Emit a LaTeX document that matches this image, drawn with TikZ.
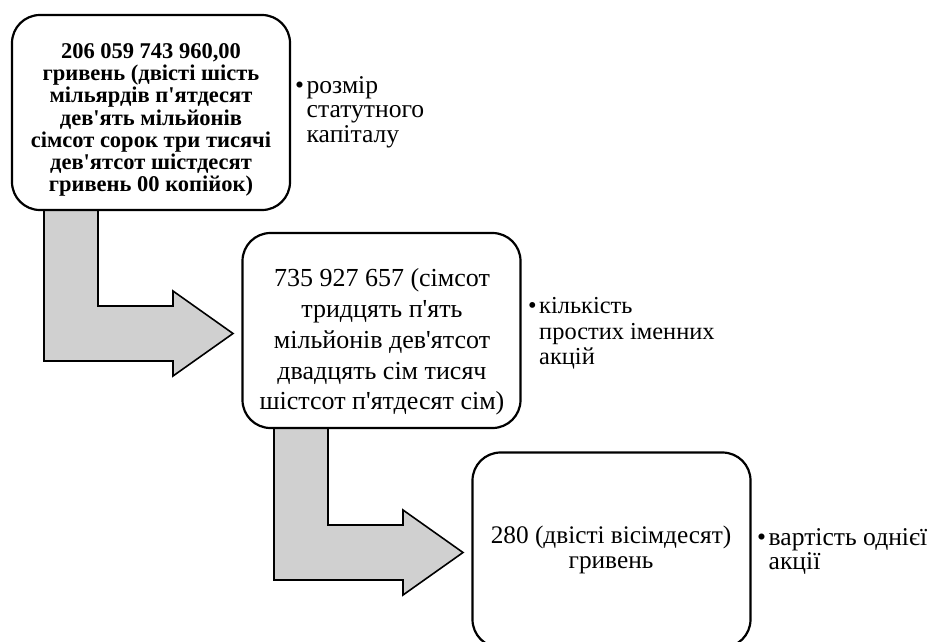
\documentclass[tikz,border=0pt]{standalone}
\usepackage{fontspec}
\setmainfont{Liberation Serif}[Ligatures=TeXOff]
\definecolor{arrowgray}{RGB}{208,208,208}
\newcommand{\bul}{•\hspace{2.5pt}}
\newcommand{\ind}{\phantom{\bul}}
\tikzset{
  box/.style={draw=black, line width=2.2pt, rounded corners=28pt, fill=white,
    minimum width=278pt, minimum height=195pt, inner sep=0pt},
  bigarrow/.style={draw=black, line width=1.6pt, fill=arrowgray, line join=miter},
  boldtxt/.style={font=\fontsize{22.5pt}{22.2pt}\selectfont\bfseries, align=center, inner sep=0pt},
  regtxt/.style={font=\fontsize{26pt}{30.8pt}\selectfont, align=center, inner sep=0pt},
  regtxtb/.style={font=\fontsize{25.3pt}{25pt}\selectfont, align=center, inner sep=0pt},
  lbl/.style={font=\fontsize{25.6pt}{24.5pt}\selectfont, align=left, inner sep=0pt, anchor=north west},
  lblsmall/.style={lbl, font=\fontsize{24.4pt}{25.8pt}\selectfont},
  pics/bentarrow/.style={code={
    \draw[bigarrow] (0,-4) -- (0,153) -- (129,153) -- (129,168) -- (189,125.5)
      -- (129,83) -- (129,98) -- (54,98) -- (54,-4) -- cycle;
  }}
}
\begin{document}
\begin{tikzpicture}[x=1pt, y=-1pt]
\useasboundingbox (0,0) rectangle (931,641);
\clip (0,0) rectangle (931,641);
% arrows (drawn first, boxes cover their upper ends)
\pic at (44,208) {bentarrow};
\pic at (274,427) {bentarrow};
% boxes
\node[box] (b1) at (151,112.5) {};
\node[box] (b2) at (381.5,330.5) {};
\node[box] (b3) at (611.5,550) {};
% box texts
\node[boldtxt] (t1) at (151,120) {206 059 743 960,00\\гривень (двісті шість\\мільярдів п'ятдесят\\дев'ять мільйонів\\сімсот сорок три тисячі\\дев'ятсот шістдесят\\гривень 00 копійок)};
\node[regtxt] (t2) at (382,342) {735 927 657 (сімсот\\тридцять п'ять\\мільйонів дев'ятсот\\двадцять сім тисяч\\шістсот п'ятдесят сім)};
\node[regtxtb] (t3) at (611,550) {280 (двісті вісімдесят)\\гривень};
% side labels
\node[lbl] (l1) at (295,76) {\bul розмір\\\ind статутного\\\ind капіталу};
\node[lblsmall] (l2) at (528,297) {\bul кількість\\\ind простих іменних\\\ind акцій};
\node[lbl] (l3) at (757,528) {\bul вартість однієї\\\ind акції};
\end{tikzpicture}
\end{document}
